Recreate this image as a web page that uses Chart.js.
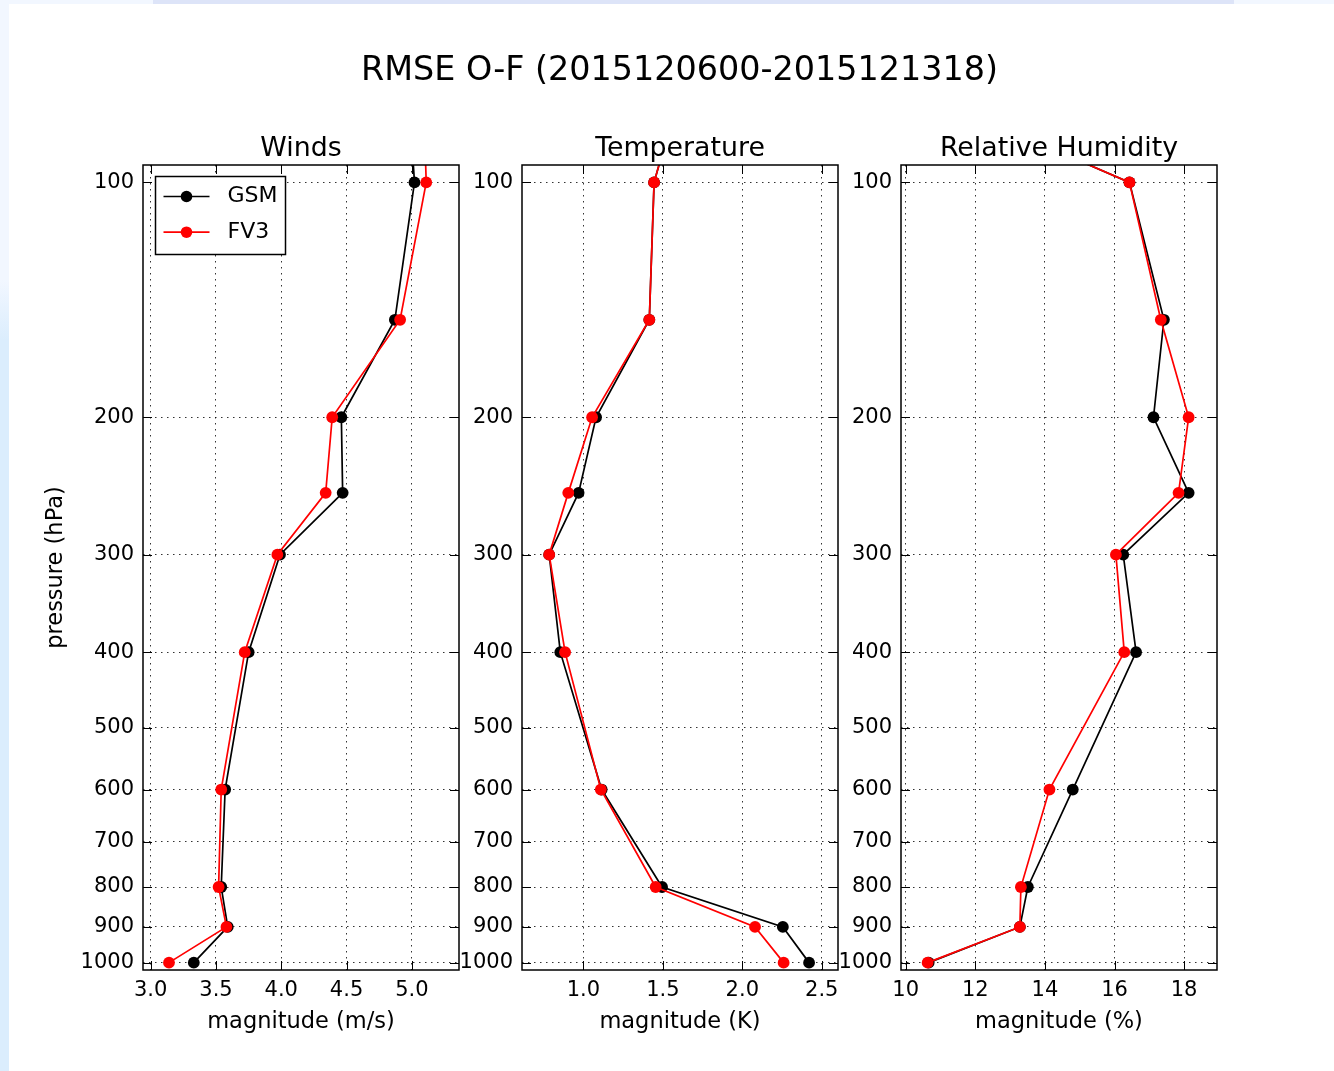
<!DOCTYPE html>
<html>
<head>
<meta charset="utf-8">
<title>RMSE O-F</title>
<script src="https://cdn.jsdelivr.net/npm/chart.js@4.4.1/dist/chart.umd.min.js"></script>
<style>
  html, body { margin: 0; padding: 0; }
  body {
    width: 1334px; height: 1071px; position: relative; overflow: hidden;
    background: linear-gradient(#f2f7ff 0px, #f2f7ff 280px, #dbedfd 340px);
  }
  #topband { position: absolute; left: 153px; top: 0; width: 1081px; height: 4px; background: #dde4f8; }
  #sheet { position: absolute; left: 9px; top: 4px; right: 0; bottom: 0; background: #fff; }
  canvas.panel { position: absolute; left: 0; top: 0; width: 1334px; height: 1071px; }
</style>
</head>
<body>
<div id="topband"></div>
<div id="sheet"></div>
<canvas id="winds" class="panel" width="1334" height="1071"></canvas>
<canvas id="temp" class="panel" width="1334" height="1071"></canvas>
<canvas id="rh" class="panel" width="1334" height="1071"></canvas>
<script>
// pressure levels (hPa), 70 hPa lies just above the plotted range
const levels = [70, 100, 150, 200, 250, 300, 400, 600, 800, 900, 1000];
const pressureTicks = [100, 200, 300, 400, 500, 600, 700, 800, 900, 1000];

// RMSE of obs minus forecast at each level
const windsGSM = [4.96, 5.02, 4.87, 4.46, 4.47, 3.99, 3.75, 3.57, 3.54, 3.59, 3.33];
const windsFV3 = [5.08, 5.11, 4.91, 4.39, 4.34, 3.97, 3.72, 3.54, 3.52, 3.58, 3.14];
const tempGSM = [1.66, 1.445, 1.415, 1.08, 0.97, 0.785, 0.855, 1.115, 1.495, 2.255, 2.42];
const tempFV3 = [1.66, 1.445, 1.415, 1.055, 0.905, 0.785, 0.885, 1.11, 1.455, 2.08, 2.26];
const rhGSM = [8.37, 16.43, 17.42, 17.12, 18.13, 16.25, 16.62, 14.80, 13.51, 13.28, 10.66];
const rhFV3 = [8.37, 16.43, 17.33, 18.13, 17.84, 16.04, 16.28, 14.13, 13.31, 13.28, 10.63];

const windsTicks = [3.0, 3.5, 4.0, 4.5, 5.0];
const tempTicks = [1.0, 1.5, 2.0, 2.5];
const rhTicks = [10, 12, 14, 16, 18];

const FONT = '"DejaVu Sans"';
Chart.defaults.font.family = FONT;
Chart.defaults.color = '#000';

// frame, inward ticks and subplot title, matplotlib style
const framePlugin = {
    id: 'frame',
    afterDatasetsDraw(chart, args, opts) {
        const ctx = chart.ctx;
        const a = chart.chartArea;
        const sx = chart.scales.x, sy = chart.scales.y;
        ctx.save();
        ctx.strokeStyle = '#000';
        ctx.lineWidth = 1;
        ctx.beginPath();
        for (const t of sx.ticks) {
            const px = Math.round(sx.getPixelForValue(t.value)) + 0.5;
            ctx.moveTo(px, a.bottom); ctx.lineTo(px, a.bottom - 9);
            ctx.moveTo(px, a.top); ctx.lineTo(px, a.top + 9);
        }
        for (const t of sy.ticks) {
            const py = Math.round(sy.getPixelForValue(t.value)) + 0.5;
            ctx.moveTo(a.left, py); ctx.lineTo(a.left + 9, py);
            ctx.moveTo(a.right, py); ctx.lineTo(a.right - 9, py);
        }
        ctx.stroke();
        ctx.lineWidth = 1.5;
        ctx.strokeRect(a.left, a.top, a.right - a.left, a.bottom - a.top);

        ctx.fillStyle = '#000';
        ctx.textAlign = 'center';
        ctx.textBaseline = 'alphabetic';
        ctx.font = '26.8px ' + FONT;
        ctx.fillText(opts.title, (a.left + a.right) / 2, a.top - 9);
        if (opts.suptitle) {
            ctx.font = '33.4px ' + FONT;
            ctx.fillText(opts.suptitle, 679.5, 80);
        }

        if (opts.legend) {
            // boxed legend in the upper left corner
            const bx = a.left + 12.5, by = a.top + 11.5, bw = 130, bh = 78;
            ctx.fillStyle = '#fff';
            ctx.fillRect(bx, by, bw, bh);
            ctx.lineWidth = 1.5;
            ctx.strokeRect(bx, by, bw, bh);
            ctx.font = '22px ' + FONT;
            ctx.textAlign = 'left';
            ctx.textBaseline = 'middle';
            chart.data.datasets.forEach((ds, i) => {
                const y = by + 20 + i * 35.7;
                ctx.strokeStyle = ds.borderColor;
                ctx.fillStyle = ds.borderColor;
                ctx.lineWidth = 1.7;
                ctx.beginPath();
                ctx.moveTo(bx + 8, y); ctx.lineTo(bx + 54, y);
                ctx.stroke();
                ctx.beginPath();
                ctx.arc(bx + 31, y, 5.8, 0, Math.PI * 2);
                ctx.fill();
                ctx.fillStyle = '#000';
                ctx.fillText(ds.label, bx + 72, y);
            });
        }
        ctx.restore();
    }
};

function series(label, values, color, order) {
    return {
        label: label,
        data: levels.map((p, i) => ({x: values[i], y: p})),
        borderColor: color,
        backgroundColor: color,
        pointBackgroundColor: color,
        borderWidth: 1.7,
        pointRadius: 5.9,
        pointHoverRadius: 5.9,
        pointBorderWidth: 0,
        order: order,
        clip: 0
    };
}

function makePanel(id, cfg) {
    const left = cfg.left, width = 316;
    return new Chart(document.getElementById(id), {
        type: 'line',
        data: {
            datasets: [
                series('GSM', cfg.gsm, '#000000', 2),
                series('FV3', cfg.fv3, '#ff0000', 1)
            ]
        },
        options: {
            responsive: false,
            animation: false,
            events: [],
            layout: {padding: {left: left - 100, right: 1334 - left - width, top: 165, bottom: 0}},
            plugins: {
                legend: {display: false},
                tooltip: {enabled: false},
                frame: {title: cfg.title, suptitle: cfg.suptitle, legend: cfg.legend}
            },
            scales: {
                x: {
                    type: 'linear',
                    min: cfg.min,
                    max: cfg.max,
                    afterBuildTicks: s => { s.ticks = cfg.ticks.map(v => ({value: v})); },
                    afterFit: s => { s.height = 101; },
                    ticks: {
                        autoSkip: false,
                        maxRotation: 0,
                        padding: 8,
                        font: {size: 21},
                        callback: v => cfg.decimals ? v.toFixed(cfg.decimals) : String(v)
                    },
                    grid: {color: 'rgba(0,0,0,0.8)', lineWidth: 1, drawTicks: false},
                    border: {display: false, dash: [1.5, 4.5]},
                    title: {display: true, text: cfg.xLabel, font: {size: 22.5}, padding: {top: 0, bottom: 35}}
                },
                y: {
                    type: 'logarithmic',
                    reverse: true,
                    min: 95,
                    max: 1022,
                    afterBuildTicks: s => { s.ticks = pressureTicks.map(v => ({value: v})); },
                    afterFit: s => { s.width = 100; },
                    ticks: {autoSkip: false, padding: 9, font: {size: 21}, callback: v => String(v)},
                    grid: {color: 'rgba(0,0,0,0.8)', lineWidth: 1, drawTicks: false},
                    border: {display: false, dash: [1.5, 4.5]},
                    title: {
                        display: !!cfg.yLabel,
                        text: cfg.yLabel || '',
                        font: {size: 22.5},
                        padding: {top: 0, bottom: 0}
                    }
                }
            }
        },
        plugins: [framePlugin]
    });
}

makePanel('winds', {
    left: 143, title: 'Winds', xLabel: 'magnitude (m/s)', yLabel: 'pressure (hPa)',
    suptitle: 'RMSE O-F (2015120600-2015121318)', legend: true,
    gsm: windsGSM, fv3: windsFV3, ticks: windsTicks, min: 2.941, max: 5.361, decimals: 1
});
makePanel('temp', {
    left: 522, title: 'Temperature', xLabel: 'magnitude (K)',
    gsm: tempGSM, fv3: tempFV3, ticks: tempTicks, min: 0.614, max: 2.602, decimals: 1
});
makePanel('rh', {
    left: 901, title: 'Relative Humidity', xLabel: 'magnitude (%)',
    gsm: rhGSM, fv3: rhFV3, ticks: rhTicks, min: 9.865, max: 18.945, decimals: 0
});
</script>
</body>
</html>
